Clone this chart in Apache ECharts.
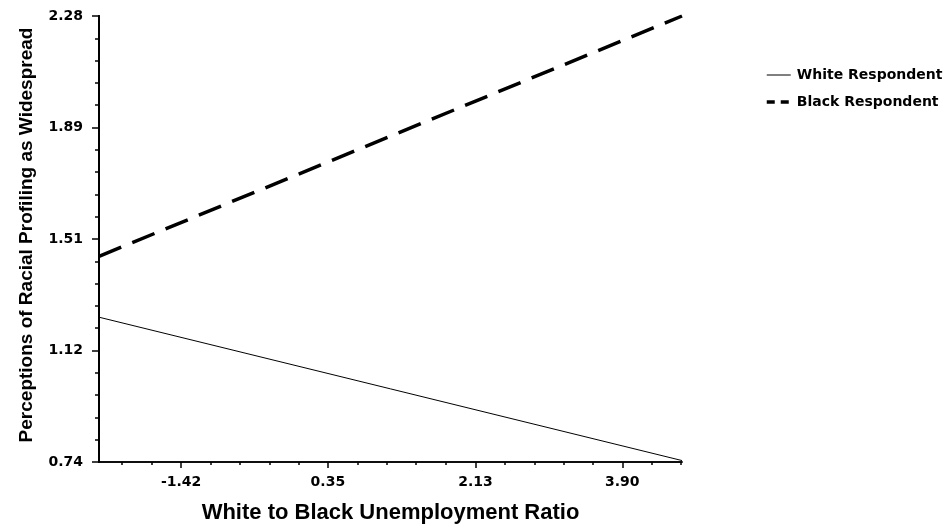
<!DOCTYPE html>
<html>
<head>
<meta charset="utf-8">
<script src="https://cdn.jsdelivr.net/npm/echarts@6/dist/echarts.min.js"></script>
<style>
  html, body { margin: 0; padding: 0; background: #fff; }
  #chart { width: 949px; height: 526px; }
</style>
</head>
<body>
<div id="chart"></div>
<script>
// 数据
const xRange = [-2.41, 4.62];
const xEnds = [-2.41, 4.62];
const whiteValues = [1.24, 0.745];
const blackValues = [1.45, 2.28];
const seriesNames = ['White Respondent', 'Black Respondent'];

// 刻度
const xTickValues = [-1.42, 0.35, 2.13, 3.90];
const xTickLabels = ['-1.42', '0.35', '2.13', '3.90'];
const xMinorTicks = [-2.13, -1.775, -1.065, -0.71, -0.355, 0, 0.705, 1.06, 1.415, 1.77, 2.485, 2.84, 3.19, 3.545, 4.255, 4.61];
const yRange = [0.74, 2.28];
const yTickValues = [0.74, 1.125, 1.51, 1.895, 2.28];
const yTickLabels = ['0.74', '1.12', '1.51', '1.89', '2.28'];
const yMinorTicks = [0.817, 0.894, 0.971, 1.048, 1.202, 1.279, 1.356, 1.433, 1.587, 1.664, 1.741, 1.818, 1.972, 2.049, 2.126, 2.203];

const tickFont = { color: '#000', fontFamily: 'DejaVu Sans', fontWeight: 'bold', fontSize: 14 };
const titleFont = { color: '#000', fontFamily: 'Liberation Sans', fontWeight: 'bold' };

const myChart = echarts.init(document.getElementById('chart'));

const option = {
  backgroundColor: '#fff',
  animation: false,
  grid: { left: 99, right: 267, top: 16, bottom: 64, outerBoundsMode: 'none' },
  legend: {
    orient: 'vertical',
    left: 760,
    top: 63,
    itemWidth: 24,
    itemHeight: 14,
    itemGap: 13,
    itemStyle: { opacity: 0 },
    data: [
      { name: seriesNames[0], lineStyle: { width: 1, color: '#000' } },
      { name: seriesNames[1], lineStyle: { width: 3.5, color: '#000', type: [8, 6] } }
    ],
    textStyle: { color: '#000', fontFamily: 'DejaVu Sans', fontWeight: 'bold', fontSize: 14, padding: [0, 0, 0, 1] }
  },
  xAxis: [
    {
      type: 'value',
      position: 'bottom',
      min: xRange[0],
      max: xRange[1],
      name: 'White to Black Unemployment Ratio',
      nameLocation: 'middle',
      nameGap: 40,
      nameTextStyle: Object.assign({ fontSize: 22 }, titleFont),
      axisLine: { onZero: false, lineStyle: { color: '#000', width: 1.5 } },
      axisTick: { customValues: xTickValues, length: 6, lineStyle: { color: '#000', width: 1.5 } },
      axisLabel: Object.assign({
        customValues: xTickValues,
        margin: 13,
        formatter: (v) => xTickLabels[xTickValues.indexOf(v)]
      }, tickFont),
      splitLine: { show: false }
    },
    {
      type: 'value',
      position: 'bottom',
      min: xRange[0],
      max: xRange[1],
      axisLine: { onZero: false, lineStyle: { color: '#000', width: 1.5 } },
      axisTick: { customValues: xMinorTicks, length: 3, lineStyle: { color: '#000', width: 1.5 } },
      axisLabel: { show: false },
      splitLine: { show: false }
    }
  ],
  yAxis: [
    {
      type: 'value',
      position: 'left',
      min: yRange[0],
      max: yRange[1],
      name: 'Perceptions of Racial Profiling as Widespread',
      nameLocation: 'middle',
      nameRotate: 90,
      nameGap: 63,
      nameTextStyle: Object.assign({ fontSize: 19, padding: [0, 0, 0, 8] }, titleFont),
      axisLine: { onZero: false, lineStyle: { color: '#000', width: 2 } },
      axisTick: { customValues: yTickValues, length: 7, lineStyle: { color: '#000', width: 1.5 } },
      axisLabel: Object.assign({
        customValues: yTickValues,
        margin: 16,
        formatter: (v) => yTickLabels[yTickValues.indexOf(v)]
      }, tickFont),
      splitLine: { show: false }
    },
    {
      type: 'value',
      position: 'left',
      min: yRange[0],
      max: yRange[1],
      axisLine: { onZero: false, lineStyle: { color: '#000', width: 2 } },
      axisTick: { customValues: yMinorTicks, length: 4, lineStyle: { color: '#000', width: 1.5 } },
      axisLabel: { show: false },
      splitLine: { show: false }
    }
  ],
  series: [
    {
      name: seriesNames[0],
      type: 'line',
      showSymbol: false,
      symbol: 'none',
      data: xEnds.map((x, i) => [x, whiteValues[i]]),
      lineStyle: { color: '#000', width: 1 },
      itemStyle: { color: '#000' }
    },
    {
      name: seriesNames[1],
      type: 'line',
      showSymbol: false,
      symbol: 'none',
      data: xEnds.map((x, i) => [x, blackValues[i]]),
      lineStyle: { color: '#000', width: 3.5, type: [24, 12] },
      itemStyle: { color: '#000' }
    }
  ]
};

myChart.setOption(option);
</script>
</body>
</html>
